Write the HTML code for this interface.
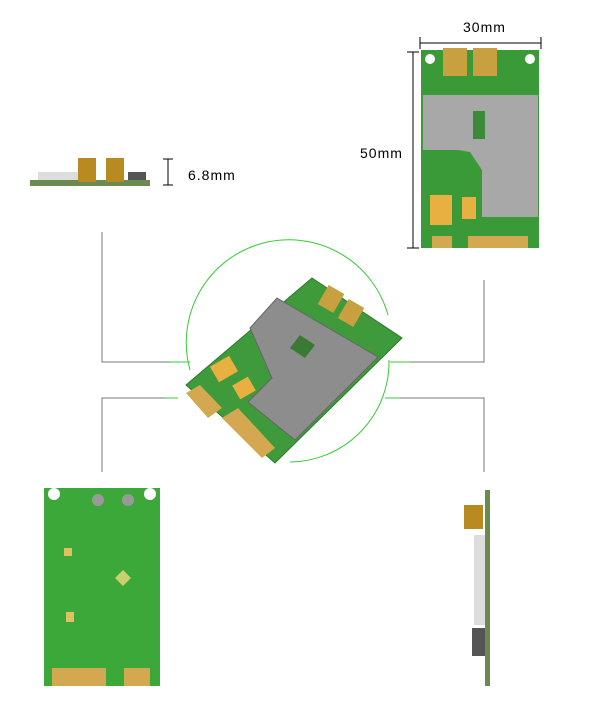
<!DOCTYPE html>
<html><head><style>body{margin:0;background:#fff}svg{display:block}text{font-family:"Liberation Sans",sans-serif}</style></head>
<body>
<svg width="600" height="709" viewBox="0 0 600 709" xmlns="http://www.w3.org/2000/svg">
<!-- connector lines -->
<g stroke="#777" stroke-width="1" fill="none">
<polyline points="102,232 102,362 185,362"/>
<polyline points="102,472 102,398 170,398"/>
<polyline points="484,280 484,362 395,362"/>
<polyline points="484,472 484,398 385,398"/>
</g>
<g stroke="#3c3" stroke-width="1" fill="none">
<line x1="170" y1="362" x2="190" y2="362"/>
<line x1="165" y1="398" x2="178" y2="398"/>
<line x1="390" y1="362" x2="410" y2="362"/>
<line x1="385" y1="398" x2="400" y2="398"/>
<path d="M190,370 A100,100 0 1 1 388,315"/>
<path d="M389,360 A100,100 0 0 1 290,462"/>
</g>
<!-- center board -->
<polygon points="312,278 402,338 275,463 186,385" fill="#3e9a3a" stroke="#2a7a2a"/>
<polygon points="277,298 378,357 295,440 248,402 272,378 250,328" fill="#8d8d8d" stroke="#666"/>
<polygon points="300,335 315,345 305,358 290,348" fill="#3a7a36"/>
<rect x="322" y="288" width="18" height="22" fill="#c8a040" transform="rotate(30 331 299)"/>
<rect x="342" y="302" width="18" height="22" fill="#c8a040" transform="rotate(30 351 313)"/>
<rect x="213" y="360" width="22" height="18" fill="#e8b040" transform="rotate(-30 224 369)"/>
<rect x="235" y="380" width="18" height="16" fill="#e8b040" transform="rotate(-30 244 388)"/>
<polygon points="186,393 200,385 222,408 208,418" fill="#d4a850"/>
<polygon points="222,418 238,408 275,448 262,458" fill="#d4a850"/>
<!-- top-left side view -->
<rect x="30" y="180" width="120" height="6" fill="#6a8a50"/>
<rect x="38" y="172" width="40" height="8" fill="#ddd"/>
<rect x="78" y="158" width="18" height="24" fill="#b88a20"/>
<rect x="106" y="158" width="18" height="24" fill="#b88a20"/>
<rect x="128" y="172" width="18" height="8" fill="#555"/>
<g stroke="#000" stroke-width="1"><line x1="168" y1="159" x2="168" y2="185"/><line x1="163" y1="159" x2="173" y2="159"/><line x1="163" y1="185" x2="173" y2="185"/></g>
<text x="188" y="180" font-size="14" letter-spacing="1">6.8mm</text>
<!-- top-right board -->
<g stroke="#000" stroke-width="1"><line x1="420" y1="43" x2="541" y2="43"/><line x1="420" y1="37" x2="420" y2="49"/><line x1="541" y1="37" x2="541" y2="49"/>
<line x1="413" y1="52" x2="413" y2="248"/><line x1="407" y1="52" x2="419" y2="52"/><line x1="407" y1="248" x2="419" y2="248"/></g>
<text x="463" y="32" font-size="14" letter-spacing="1">30mm</text>
<text x="360" y="158" font-size="14" letter-spacing="1">50mm</text>
<rect x="421" y="50" width="118" height="198" fill="#3a9a38"/>
<circle cx="430" cy="59" r="5" fill="#fff"/><circle cx="530" cy="59" r="5" fill="#fff"/>
<rect x="443" y="48" width="24" height="28" fill="#c8a040"/><rect x="473" y="48" width="24" height="28" fill="#c8a040"/>
<polygon points="423,95 538,95 538,217 482,217 482,170 470,152 458,150 423,150" fill="#a8a8a8"/>
<rect x="473" y="111" width="12" height="28" fill="#3a8a38"/>
<rect x="430" y="195" width="22" height="30" fill="#e8b040"/><rect x="462" y="197" width="14" height="22" fill="#e8b040"/>
<rect x="432" y="236" width="20" height="12" fill="#d4a850"/><rect x="468" y="236" width="60" height="12" fill="#d4a850"/>
<!-- bottom-left board -->
<rect x="44" y="488" width="116" height="198" fill="#3da83a"/>
<circle cx="54" cy="494" r="6" fill="#fff"/><circle cx="150" cy="494" r="6" fill="#fff"/>
<circle cx="98" cy="500" r="6" fill="#999"/><circle cx="128" cy="500" r="6" fill="#999"/>
<rect x="64" y="548" width="8" height="8" fill="#e0c060"/><rect x="66" y="612" width="8" height="10" fill="#e0c060"/>
<polygon points="123,570 131,578 123,586 115,578" fill="#c8d070"/>
<rect x="52" y="668" width="54" height="18" fill="#d4a850"/><rect x="124" y="668" width="26" height="18" fill="#d4a850"/>
<!-- bottom-right side view -->
<rect x="485" y="490" width="5" height="196" fill="#6a8a50"/>
<rect x="464" y="505" width="19" height="24" fill="#b88a20"/>
<rect x="474" y="535" width="11" height="90" fill="#ddd"/>
<rect x="472" y="628" width="13" height="28" fill="#555"/>
</svg>
</body></html>
